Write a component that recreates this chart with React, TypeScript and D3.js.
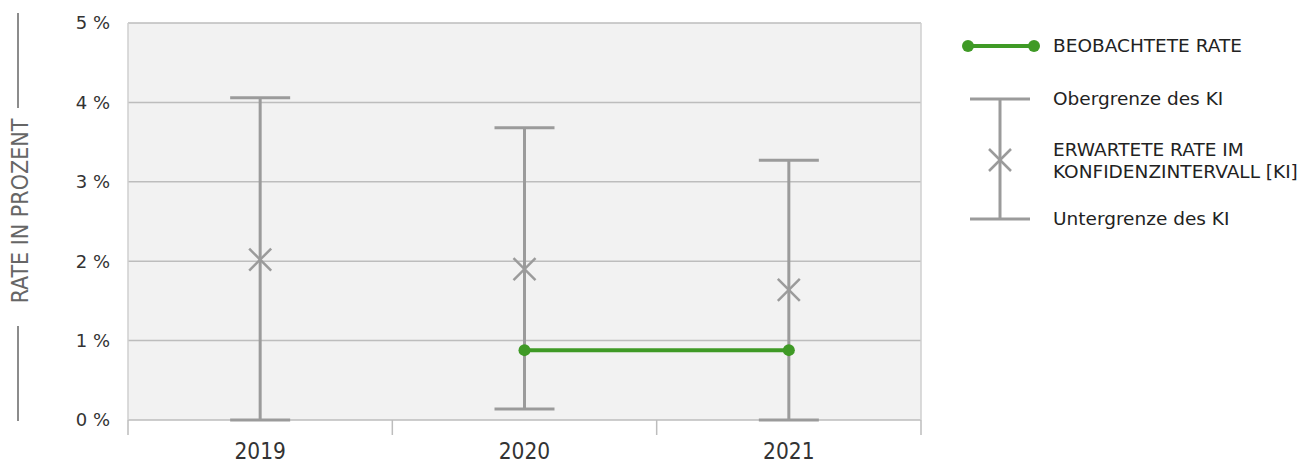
import React from 'react';
import * as d3 from 'd3';

const years = ['2019', '2020', '2021'];
const upperCI = [4.06, 3.68, 3.27];
const lowerCI = [0.0, 0.14, 0.0];
const expectedRate = [2.02, 1.9, 1.64];
const observedRate: (number | null)[] = [null, 0.88, 0.88];
const yTicks = [0, 1, 2, 3, 4, 5];

const W = 1309;
const H = 464;
const margin = { top: 23, right: 388, bottom: 44, left: 128 };

const GREY = '#9b9b9b';
const GREEN = '#3f9a26';
const FONT = '"DejaVu Sans", sans-serif';
const COND = '"DejaVu Sans Condensed", "DejaVu Sans", sans-serif';

export default function App() {
  const x = d3.scaleBand<string>().domain(years).range([margin.left, W - margin.right]);
  const y = d3.scaleLinear().domain([0, 5]).range([H - margin.bottom, margin.top]);
  const cx = (yr: string) => (x(yr) as number) + x.bandwidth() / 2;
  const capHalf = 30;
  const crossHalf = 11;

  const obs = years
    .map((yr, i) => ({ yr, v: observedRate[i] }))
    .filter(d => d.v !== null) as { yr: string; v: number }[];
  const line = d3.line<{ yr: string; v: number }>().x(d => cx(d.yr)).y(d => y(d.v));

  const x0 = margin.left;
  const x1 = W - margin.right;
  const y0 = y(0);
  const y5 = y(5);
  const bandEdges = years.map(yr => x(yr) as number).concat([x1]);

  // legend positions
  const lx = 1000;
  const ltx = 1053;

  return (
    <svg width={W} height={H} style={{ position: 'absolute', left: 0, top: 0 }}>
      <rect x={x0} y={y5} width={x1 - x0} height={y0 - y5} fill="#f2f2f2" />
      {yTicks.map(t => (
        <line key={t} x1={x0} x2={x1} y1={y(t)} y2={y(t)} stroke="#bdbdbd" strokeWidth={1.5} />
      ))}
      <line x1={x1} x2={x1} y1={y5} y2={y0} stroke="#cfcfcf" strokeWidth={1.5} />
      <line x1={x0} x2={x0} y1={y5} y2={y0} stroke="#cfcfcf" strokeWidth={1.5} />
      {bandEdges.map((bx, i) => (
        <line key={i} x1={bx} x2={bx} y1={y0} y2={y0 + 15} stroke="#bdbdbd" strokeWidth={1.5} />
      ))}
      {yTicks.map(t => (
        <text key={t} x={110} y={y(t)} dy="0.35em" textAnchor="end" fontFamily={FONT} fontSize={18} fill="#333">
          {t} %
        </text>
      ))}
      {years.map(yr => (
        <text key={yr} x={cx(yr)} y={459} textAnchor="middle" fontFamily={COND} fontSize={22.5} fill="#333">
          {yr}
        </text>
      ))}

      {years.map((yr, i) => {
        const c = cx(yr);
        const e = y(expectedRate[i]);
        return (
          <g key={yr} stroke={GREY} strokeWidth={3}>
            <line x1={c} x2={c} y1={y(upperCI[i])} y2={y(lowerCI[i])} />
            <line x1={c - capHalf} x2={c + capHalf} y1={y(upperCI[i])} y2={y(upperCI[i])} />
            <line x1={c - capHalf} x2={c + capHalf} y1={y(lowerCI[i])} y2={y(lowerCI[i])} />
            <line x1={c - crossHalf} x2={c + crossHalf} y1={e - crossHalf} y2={e + crossHalf} strokeWidth={2.5} />
            <line x1={c - crossHalf} x2={c + crossHalf} y1={e + crossHalf} y2={e - crossHalf} strokeWidth={2.5} />
          </g>
        );
      })}

      <path d={line(obs) || ''} fill="none" stroke={GREEN} strokeWidth={4} />
      {obs.map(d => (
        <circle key={d.yr} cx={cx(d.yr)} cy={y(d.v)} r={6} fill={GREEN} />
      ))}

      {/* y axis title */}
      <line x1={18} x2={18} y1={13} y2={108} stroke="#666" strokeWidth={1.5} />
      <line x1={18} x2={18} y1={326} y2={421} stroke="#666" strokeWidth={1.5} />
      <text
        transform={`translate(28, 211) rotate(-90)`}
        textAnchor="middle"
        fontFamily={COND}
        fontSize={23}
        fill="#666"
      >
        RATE IN PROZENT
      </text>

      {/* legend */}
      <line x1={968} x2={1034} y1={46} y2={46} stroke={GREEN} strokeWidth={4} />
      <circle cx={968} cy={46} r={6} fill={GREEN} />
      <circle cx={1034} cy={46} r={6} fill={GREEN} />
      <g stroke={GREY} strokeWidth={3}>
        <line x1={lx} x2={lx} y1={99} y2={219} />
        <line x1={lx - capHalf} x2={lx + capHalf} y1={99} y2={99} />
        <line x1={lx - capHalf} x2={lx + capHalf} y1={219} y2={219} />
        <line x1={lx - crossHalf} x2={lx + crossHalf} y1={160 - crossHalf} y2={160 + crossHalf} strokeWidth={2.5} />
        <line x1={lx - crossHalf} x2={lx + crossHalf} y1={160 + crossHalf} y2={160 - crossHalf} strokeWidth={2.5} />
      </g>
      <g fontFamily={FONT} fontSize={18.5} fill="#222">
        <text x={ltx} y={46} dy="0.35em">BEOBACHTETE RATE</text>
        <text x={ltx} y={99} dy="0.35em">Obergrenze des KI</text>
        <text x={ltx} y={150} dy="0.35em">ERWARTETE RATE IM</text>
        <text x={ltx} y={172} dy="0.35em">KONFIDENZINTERVALL [KI]</text>
        <text x={ltx} y={219} dy="0.35em">Untergrenze des KI</text>
      </g>
    </svg>
  );
}
